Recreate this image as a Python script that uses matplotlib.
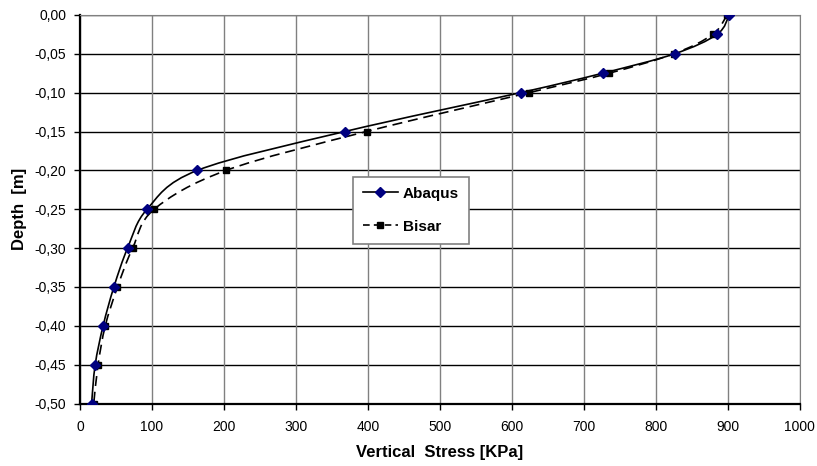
import numpy as np
import matplotlib
matplotlib.use("Agg")
import matplotlib.pyplot as plt
from matplotlib.path import Path
from matplotlib.patches import PathPatch
from matplotlib.lines import Line2D
from matplotlib.ticker import FuncFormatter

# depth [m] and vertical stress [KPa]
depth = [0.0, -0.025, -0.05, -0.075, -0.1, -0.15, -0.2, -0.25, -0.3, -0.35, -0.4, -0.45, -0.5]
abaqus = [902, 885, 826, 726, 612, 368, 163, 93, 66, 47, 32, 21, 16]
bisar = [899, 879, 825, 735, 624, 398, 203, 103, 73, 52, 35, 25, 19]

x_ticks = [0, 100, 200, 300, 400, 500, 600, 700, 800, 900, 1000]
y_ticks = [0.0, -0.05, -0.1, -0.15, -0.2, -0.25, -0.3, -0.35, -0.4, -0.45, -0.5]


def smooth_path(xs, ys):
    # catmull-rom style bezier through the points (like excel "smoothed line")
    pts = np.column_stack([xs, ys]).astype(float)
    n = len(pts)
    verts = [pts[0]]
    codes = [Path.MOVETO]
    for i in range(n - 1):
        p0 = pts[i - 1] if i > 0 else pts[i]
        p1 = pts[i]
        p2 = pts[i + 1]
        p3 = pts[i + 2] if i + 2 < n else pts[i + 1]
        c1 = p1 + (p2 - p0) / 6.0
        c2 = p2 - (p3 - p1) / 6.0
        verts += [c1, c2, p2]
        codes += [Path.CURVE4] * 3
    return Path(verts, codes)


def main():
    plt.rcParams['font.family'] = ['Liberation Sans', 'DejaVu Sans']
    fig = plt.figure(figsize=(8.17, 4.66), dpi=100)
    ax = fig.add_axes([0.098, 0.134, 0.881, 0.834])

    ax.add_patch(PathPatch(smooth_path(abaqus, depth), facecolor='none',
                           edgecolor='black', lw=1.2, zorder=3))
    ax.add_patch(PathPatch(smooth_path(bisar, depth), facecolor='none',
                           edgecolor='black', lw=1.2, linestyle=(0, (6, 3.5)), zorder=3))

    ax.plot(bisar, depth, linestyle='none', marker='s', ms=3.8,
            color='black', zorder=4)
    ax.plot(abaqus, depth, linestyle='none', marker='D', ms=5,
            color='#000080', zorder=5)

    ax.set_xlim(0, 1000)
    ax.set_ylim(-0.5, 0.0)
    ax.set_xticks(x_ticks)
    ax.set_yticks(y_ticks)
    ax.yaxis.set_major_formatter(FuncFormatter(lambda v, p: ('%.2f' % v).replace('.', ',').replace('-0,00', '0,00')))
    ax.tick_params(axis='both', labelsize=10, direction='out', length=4, width=1)
    ax.tick_params(axis='x', pad=8)
    ax.tick_params(axis='y', pad=6)

    for y in y_ticks:
        ax.axhline(y, color='black', lw=1, zorder=1)
    for x in x_ticks:
        ax.axvline(x, color='#808080', lw=1, zorder=1)

    ax.spines['left'].set_linewidth(1.6)
    ax.spines['bottom'].set_linewidth(1.6)
    ax.spines['top'].set_color('#808080')
    ax.spines['right'].set_color('#808080')

    ax.set_xlabel('Vertical  Stress [KPa]', fontsize=12, fontweight='bold', labelpad=8)
    ax.set_ylabel('Depth  [m]', fontsize=12, fontweight='bold', labelpad=5)

    handles = [
        Line2D([], [], color='black', lw=1.2, marker='D', ms=5,
               markerfacecolor='#000080', markeredgecolor='#000080'),
        Line2D([], [], color='black', lw=1.2, linestyle=(0, (4, 2.5)), marker='s', ms=3.8),
    ]
    leg = ax.legend(handles, ['Abaqus', 'Bisar'], loc='upper left',
                    bbox_to_anchor=(0.379, 0.584), prop={'weight': 'bold', 'size': 11},
                    fancybox=False, framealpha=1, edgecolor='#808080',
                    handlelength=2.3, handletextpad=0.3, labelspacing=1.25,
                    borderpad=0.65, borderaxespad=0)
    leg.get_frame().set_linewidth(1.2)

    fig.savefig('out.png', dpi=100)


if __name__ == "__main__":
    main()
